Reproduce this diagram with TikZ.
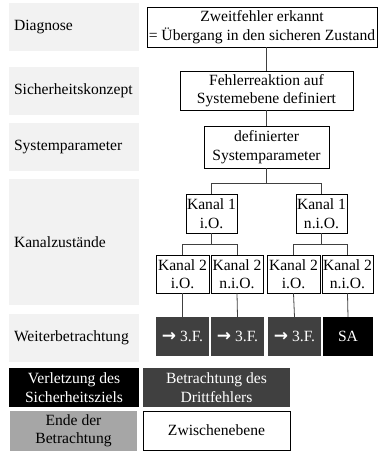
\documentclass[tikz,border=0pt]{standalone}
\usepackage{fontspec}
\setmainfont{Liberation Serif}
\newfontfamily\arrowfont{DejaVu Sans}
\newcommand\toarrow{{\arrowfont\bfseries\fontsize{17}{18}\selectfont →}}
\definecolor{panelgray}{HTML}{F2F2F2}
\definecolor{fillDark}{HTML}{404040}
\definecolor{fillEnd}{HTML}{A6A6A6}
\definecolor{linkgray}{HTML}{404040}
% \bx{name}{x1}{y1}{x2}{y2}{style}{text}: node filling the given rectangle
\newcommand\bx[7]{\node[#6, minimum width={#4-#2}, minimum height={#5-#3}] (#1) at ({(#2+#4)/2},{(#3+#5)/2}) {#7};}
\begin{document}
\begin{tikzpicture}[x=1pt, y=-1pt, font=\fontsize{15.6}{18.5}\selectfont,
  cell/.style={draw=black, line width=0.8pt, fill=white, align=center, inner sep=0pt},
  panel/.style={fill=panelgray, align=left, inner xsep=5pt, inner ysep=0pt, text width=120pt},
  darkcell/.style={fill=fillDark, text=white, align=center, inner sep=0pt},
  blackcell/.style={fill=black, text=white, align=center, inner sep=0pt},
  endcell/.style={fill=fillEnd, text=black, align=center, inner sep=0pt},
  link/.style={draw=linkgray, line width=0.8pt}]
\useasboundingbox (0,0) rectangle (378,451);

% level labels
\bx{pDiag}{9}{3}{139}{51}{panel}{Diagnose}
\bx{pSich}{9}{67}{139}{115}{panel}{Sicherheitskonzept}
\bx{pSys}{9}{123}{139}{171}{panel}{Systemparameter}
\bx{pKanal}{9}{179}{139}{305}{panel}{Kanalzustände}
\bx{pWeiter}{9}{314}{139}{362}{panel}{Weiterbetrachtung}

% decision chain
\bx{zf}{147}{7}{377}{47}{cell}{Zweitfehler erkannt\\= Übergang in den sicheren Zustand}
\bx{fr}{180}{71}{353}{110}{cell}{Fehlerreaktion auf\\Systemebene definiert}
\bx{sp}{204}{126}{329}{168}{cell}{definierter\\Systemparameter}

% channel states
\bx{kA}{186}{194}{237}{233}{cell}{Kanal 1\\i.O.}
\bx{kB}{296}{194}{347}{233}{cell}{Kanal 1\\n.i.O.}
\bx{kAA}{156}{255}{209}{293}{cell}{Kanal 2\\i.O.}
\bx{kAB}{211}{255}{263}{293}{cell}{Kanal 2\\n.i.O.}
\bx{kBA}{267}{255}{320}{293}{cell}{Kanal 2\\i.O.}
\bx{kBB}{322}{255}{373}{293}{cell}{Kanal 2\\n.i.O.}

% outcomes
\bx{oAA}{156}{317}{209}{356}{darkcell}{\toarrow\ 3.F.}
\bx{oAB}{211}{317}{264}{356}{darkcell}{\toarrow\ 3.F.}
\bx{oBA}{268}{317}{321}{356}{darkcell}{\toarrow\ 3.F.}
\bx{oBB}{323}{317}{373}{356}{blackcell}{SA}

% legend
\bx{lgViol}{9}{368}{139}{407}{blackcell}{Verletzung des\\Sicherheitsziels}
\bx{lgThird}{143}{368}{290}{407}{darkcell}{Betrachtung des\\Drittfehlers}
\bx{lgEnd}{10}{411}{137}{451}{endcell}{Ende der\\Betrachtung}
\bx{lgMid}{143}{411}{290}{450}{cell}{Zwischenebene}

% connectors
\draw[link] (fr.north |- zf.south) -- (fr.north);
\draw[link] (fr.south) -- (sp.north);
\path (sp.south) ++(0,15) coordinate (brTop);
\draw[link] (sp.south) -- (brTop);
\draw[link] (kA.north) |- (brTop) -| (kB.north);
\path (kA.south) ++(0,11) coordinate (brA);
\path (kB.south) ++(0,11) coordinate (brB);
\draw[link] (kA.south) -- (brA);
\draw[link] (kB.south) -- (brB);
\draw[link] (kAA.north) |- (brA) -| (kAB.north);
\draw[link] (kBA.north) |- (brB) -| (kBB.north);
\draw[link] (kAA.south) -- (oAA.north);
\draw[link] (kAB.south) -- (oAB.north);
\draw[link] (kBA.south) -- (oBA.north);
\draw[link] (kBB.south) -- (oBB.north);
\end{tikzpicture}
\end{document}
